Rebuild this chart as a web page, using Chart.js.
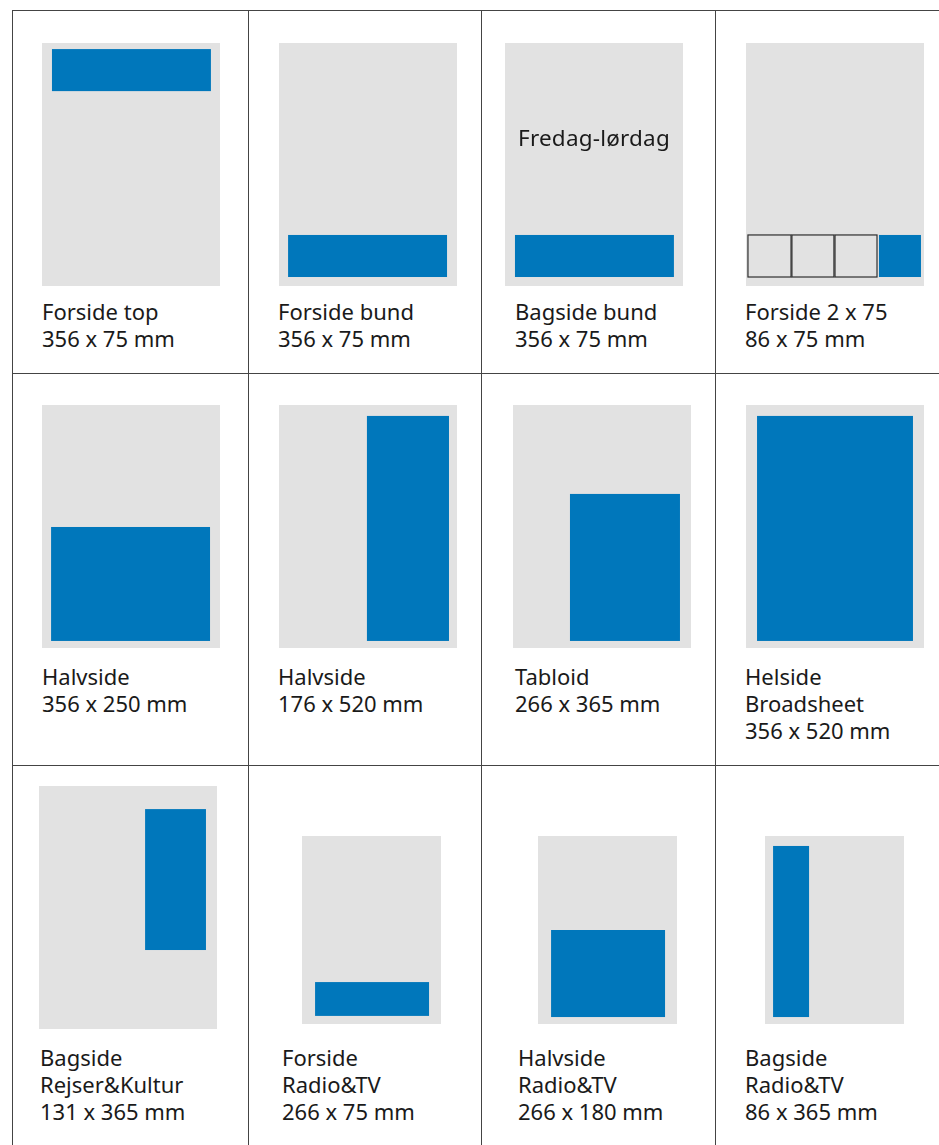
<!DOCTYPE html>
<html>
<head>
<meta charset="utf-8">
<script src="https://cdn.jsdelivr.net/npm/chart.js@4.4.1/dist/chart.umd.min.js"></script>
<style>
  html, body { margin: 0; padding: 0; background: #fff; }
  #sheet { position: relative; width: 939px; height: 1145px; overflow: hidden; font-family: "Noto Sans", sans-serif; color: #1a1a1a; }
  .vline { position: absolute; width: 1px; background: #444; top: 10px; bottom: 0; }
  .hline { position: absolute; height: 1px; background: #444; left: 12px; right: 0; }
  .page { position: absolute; }
  .page canvas { display: block; }
  .label { position: absolute; font-size: 22px; line-height: 27px; white-space: nowrap; }
  .note { position: absolute; left: 0; right: 0; text-align: center; font-size: 22.5px; line-height: 27px; letter-spacing: 0.2px; }
</style>
</head>
<body>
<div id="sheet"></div>
<script>
// ad names, sizes and where the ad sits on the page (percent of page width / height from top)
const adTitles = [
  ["Forside top"], ["Forside bund"], ["Bagside bund"], ["Forside 2 x 75"],
  ["Halvside"], ["Halvside"], ["Tabloid"], ["Helside", "Broadsheet"],
  ["Bagside", "Rejser&Kultur"], ["Forside", "Radio&TV"], ["Halvside", "Radio&TV"], ["Bagside", "Radio&TV"]
];
const adSizes = [
  "356 x 75 mm", "356 x 75 mm", "356 x 75 mm", "86 x 75 mm",
  "356 x 250 mm", "176 x 520 mm", "266 x 365 mm", "356 x 520 mm",
  "131 x 365 mm", "266 x 75 mm", "266 x 180 mm", "86 x 365 mm"
];
const adX = [
  [5.6, 94.9], [5.1, 94.4], [5.6, 94.9], [74.7, 98.3],
  [5.1, 94.4], [49.4, 95.5], [32.0, 93.8], [6.2, 93.8],
  [59.6, 93.8], [9.4, 91.4], [9.4, 91.4], [5.8, 31.7]
];
const adY = [
  [2.5, 19.8], [79.0, 96.3], [79.0, 96.3], [79.0, 96.3],
  [50.2, 97.1], [4.5, 97.1], [36.6, 97.1], [4.5, 97.1],
  [9.5, 67.5], [77.7, 95.7], [50.0, 96.3], [5.3, 96.3]
];
// the three empty 2 x 75 slots beside the booked one
const slotX = [[1.1, 25.3], [25.8, 49.4], [50.0, 73.6]];
const slotY = [79.0, 96.3];
const pageNotes = ["", "", "Fredag-lørdag", "", "", "", "", "", "", "", "", ""];

// layout: page box [left, top, width, height] and label [left, top]
const pageBox = [
  [42, 43, 178, 243], [279, 43, 178, 243], [505, 43, 178, 243], [746, 43, 178, 243],
  [42, 405, 178, 243], [279, 405, 178, 243], [513, 405, 178, 243], [746, 405, 178, 243],
  [39, 786, 178, 243], [302, 836, 139, 188], [538, 836, 139, 188], [765, 836, 139, 188]
];
const labelPos = [
  [42, 298], [278, 298], [515, 298], [745, 298],
  [42, 663], [278, 663], [515, 663], [745, 663],
  [40, 1044], [282, 1044], [518, 1044], [745, 1044]
];

const BLUE = "#0077bb";
const GREY = "#e2e2e2";
const sheet = document.getElementById("sheet");

// grid lines
[12, 248, 481, 715].forEach(x => {
  const d = document.createElement("div");
  d.className = "vline";
  d.style.left = x + "px";
  sheet.appendChild(d);
});
[10, 373, 765].forEach(y => {
  const d = document.createElement("div");
  d.className = "hline";
  d.style.top = y + "px";
  sheet.appendChild(d);
});

// draws the page and the ad boxes through the chart scales
const pagePlugin = {
  id: "pagePlugin",
  beforeDatasetsDraw(chart) {
    const { ctx, chartArea: a, scales } = chart;
    ctx.save();
    ctx.fillStyle = GREY;
    ctx.fillRect(a.left, a.top, a.right - a.left, a.bottom - a.top);
    chart.data.datasets.forEach(ds => {
      ds.rects.forEach(r => {
        const x0 = scales.x.getPixelForValue(r.x[0]);
        const x1 = scales.x.getPixelForValue(r.x[1]);
        const y0 = scales.y.getPixelForValue(r.y[0]);
        const y1 = scales.y.getPixelForValue(r.y[1]);
        ctx.fillStyle = ds.backgroundColor;
        ctx.fillRect(x0, y0, x1 - x0, y1 - y0);
        if (ds.borderWidth) {
          ctx.strokeStyle = ds.borderColor;
          ctx.lineWidth = ds.borderWidth;
          ctx.strokeRect(x0, y0, x1 - x0, y1 - y0);
        }
      });
    });
    ctx.restore();
  }
};

adTitles.forEach((title, i) => {
  const [l, t, w, h] = pageBox[i];
  const page = document.createElement("div");
  page.className = "page";
  page.style.left = l + "px";
  page.style.top = t + "px";
  page.style.width = w + "px";
  page.style.height = h + "px";
  const cv = document.createElement("canvas");
  cv.width = w;
  cv.height = h;
  page.appendChild(cv);
  sheet.appendChild(page);

  const datasets = [];
  if (i === 3) {
    datasets.push({
      data: [],
      rects: slotX.map(sx => ({ x: sx, y: slotY })),
      backgroundColor: GREY,
      borderColor: "#2e2e2e",
      borderWidth: 1.2
    });
  }
  datasets.push({ data: [], rects: [{ x: adX[i], y: adY[i] }], backgroundColor: BLUE, borderWidth: 0 });

  new Chart(cv, {
    type: "scatter",
    data: { datasets },
    options: {
      responsive: false,
      animation: false,
      events: [],
      layout: { padding: 0 },
      plugins: { legend: { display: false }, tooltip: { enabled: false } },
      scales: {
        x: { type: "linear", min: 0, max: 100, display: false },
        y: { type: "linear", min: 0, max: 100, reverse: true, display: false }
      }
    },
    plugins: [pagePlugin]
  });

  if (pageNotes[i]) {
    const n = document.createElement("div");
    n.className = "note";
    n.style.top = "81px";
    n.textContent = pageNotes[i];
    page.appendChild(n);
  }

  const lab = document.createElement("div");
  lab.className = "label";
  lab.style.left = labelPos[i][0] + "px";
  lab.style.top = labelPos[i][1] + "px";
  lab.innerHTML = title.concat([adSizes[i]]).join("<br>");
  sheet.appendChild(lab);
});
</script>
</body>
</html>
